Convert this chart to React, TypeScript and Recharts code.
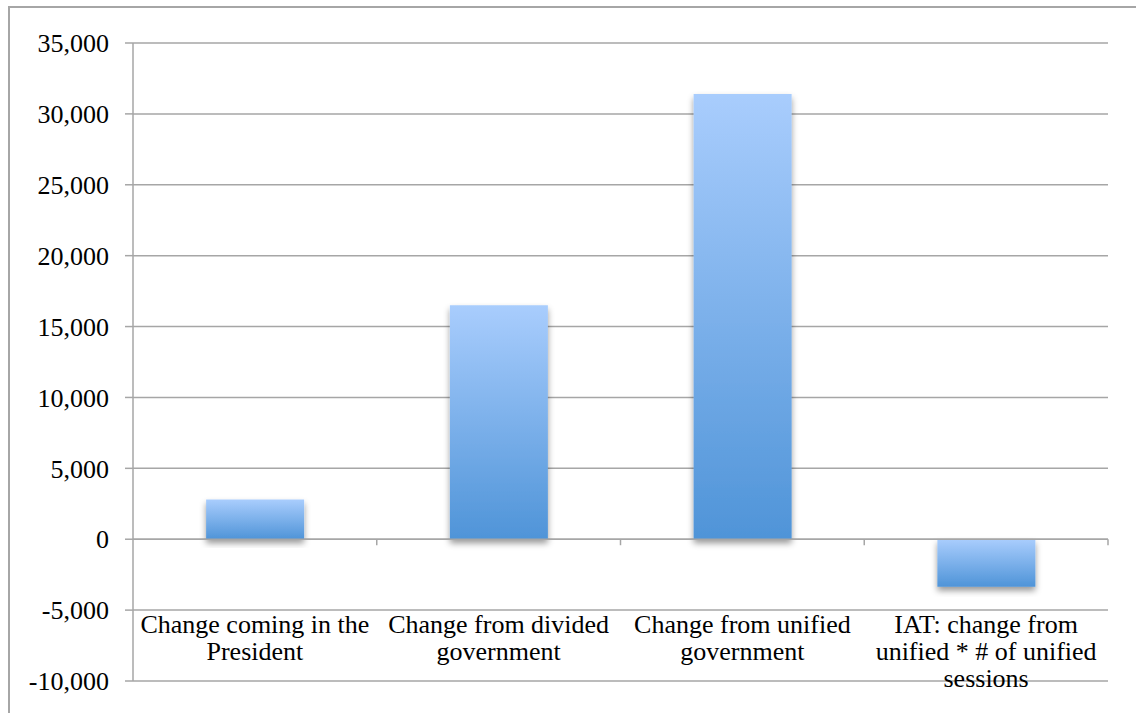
import { BarChart, Bar, XAxis, YAxis, CartesianGrid, ReferenceLine } from 'recharts';

const categories = [
  'Change coming in the President',
  'Change from divided government',
  'Change from unified government',
  'IAT: change from unified * # of unified sessions',
];
const values = [2800, 16500, 31400, -3350];
const yTicks = [-10000, -5000, 0, 5000, 10000, 15000, 20000, 25000, 30000, 35000];

const data = categories.map((name, i) => ({ name, value: values[i] }));

const GRID = '#a6a6a6';
const FONT = '"Liberation Serif", "Times New Roman", serif';
const FONT_SIZE = 26;

const CHART_W = 1136;
const CHART_H = 713;
const MARGIN = { top: 43, right: 28, bottom: 30, left: 0 };
const Y_AXIS_W = 133;
const BAND = (CHART_W - MARGIN.left - MARGIN.right - Y_AXIS_W) / categories.length;

let ctx: CanvasRenderingContext2D | null = null;
function measure(s: string) {
  if (!ctx) {
    ctx = document.createElement('canvas').getContext('2d');
    if (ctx) ctx.font = `${FONT_SIZE}px ${FONT}`;
  }
  return ctx ? ctx.measureText(s).width : s.length * FONT_SIZE * 0.45;
}

function wrap(label: string, maxW: number) {
  const lines: string[] = [];
  let cur = '';
  for (const w of label.split(' ')) {
    const next = cur ? cur + ' ' + w : w;
    if (cur && measure(next) > maxW) {
      lines.push(cur);
      cur = w;
    } else {
      cur = next;
    }
  }
  if (cur) lines.push(cur);
  return lines;
}

// category labels sit inside the plot, just under the -5,000 line
function CategoryTick(props: any) {
  const { x, y, payload } = props;
  const lines = wrap(String(payload.value), BAND - 4);
  return (
    <text
      x={x}
      y={y - 48}
      textAnchor="middle"
      fontFamily={FONT}
      fontSize={FONT_SIZE}
      fill="#000"
    >
      {lines.map((l, i) => (
        <tspan key={i} x={x} dy={i === 0 ? 0 : 27}>
          {l}
        </tspan>
      ))}
    </text>
  );
}

// zero line with little tick marks at category boundaries
function ZeroLine(props: any) {
  const { x1, y1, x2, y2 } = props;
  const step = (x2 - x1) / categories.length;
  return (
    <g>
      <line x1={x1} y1={y1} x2={x2} y2={y2} stroke={GRID} strokeWidth={1.5} />
      {categories.map((_, i) => (
        <line
          key={i}
          x1={x1 + step * (i + 1)}
          x2={x1 + step * (i + 1)}
          y1={y1}
          y2={y1 + 6}
          stroke={GRID}
          strokeWidth={1.5}
        />
      ))}
    </g>
  );
}

export default function App() {
  return (
    <div style={{ position: 'fixed', left: 0, top: 0, width: CHART_W, height: CHART_H, background: '#fff', overflow: 'hidden' }}>
      <div
        style={{
          position: 'absolute',
          left: 8,
          top: 6,
          width: 1200,
          height: 800,
          border: `2px solid ${GRID}`,
        }}
      />
      <div style={{ position: 'absolute', left: 0, top: 0 }}>
        <BarChart
          width={CHART_W}
          height={CHART_H}
          data={data}
          margin={MARGIN}
          barCategoryGap="30%"
        >
          <defs>
            <linearGradient id="barGrad" x1="0" y1="0" x2="0" y2="1">
              <stop offset="0%" stopColor="#a9cdfd" />
              <stop offset="100%" stopColor="#4f94d8" />
            </linearGradient>
            <filter id="barShadow" x="-20%" y="-20%" width="140%" height="140%">
              <feDropShadow dx="0" dy="4" stdDeviation="3" floodColor="#000" floodOpacity="0.4" />
            </filter>
          </defs>
          <CartesianGrid vertical={false} stroke={GRID} strokeWidth={1.5} />
          <XAxis
            dataKey="name"
            height={2}
            axisLine={false}
            tickLine={false}
            tickSize={0}
            tickMargin={0}
            interval={0}
            tick={<CategoryTick />}
          />
          <YAxis
            width={Y_AXIS_W}
            domain={[-10000, 35000]}
            ticks={yTicks}
            interval={0}
            tickSize={8}
            tickMargin={16}
            axisLine={{ stroke: GRID, strokeWidth: 1.5 }}
            tickLine={{ stroke: GRID, strokeWidth: 1.5 }}
            tickFormatter={(v: number) => v.toLocaleString('en-US')}
            tick={{ fontFamily: FONT, fontSize: FONT_SIZE, fill: '#000' }}
          />
          <ReferenceLine y={0} shape={<ZeroLine />} />
          <Bar
            dataKey="value"
            fill="url(#barGrad)"
            filter="url(#barShadow)"
            isAnimationActive={false}
          />
        </BarChart>
      </div>
    </div>
  );
}
